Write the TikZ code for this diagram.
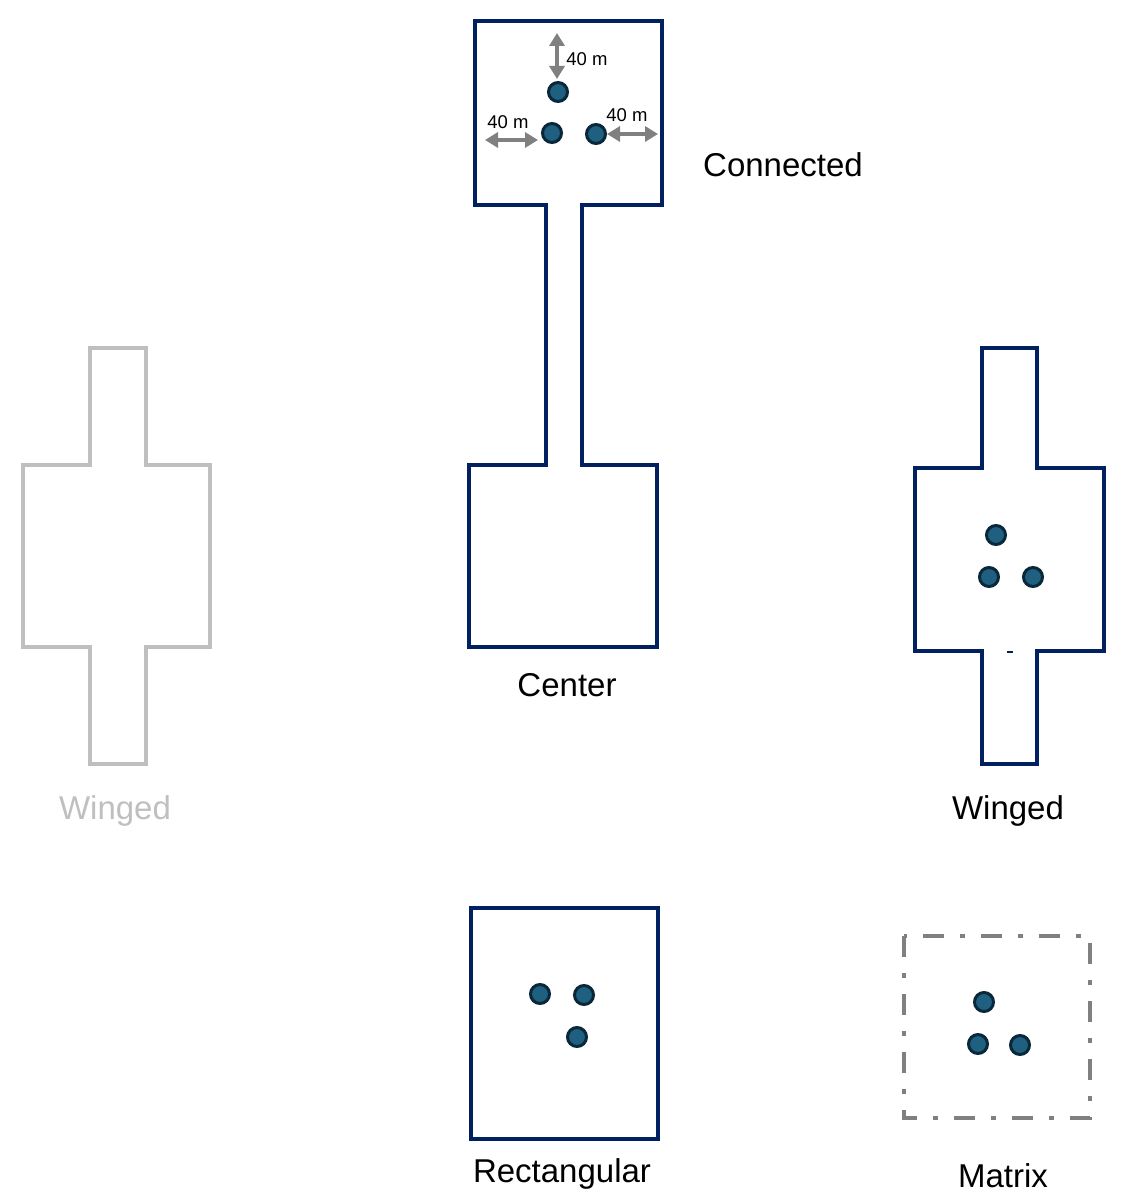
\documentclass[tikz,border=0pt]{standalone}
\usepackage{fontspec}
\setmainfont{Liberation Sans}
\usetikzlibrary{arrows.meta}
\definecolor{navy}{RGB}{0,32,96}
\definecolor{lgray}{RGB}{191,191,191}
\definecolor{mgray}{RGB}{128,128,128}
\definecolor{dotfill}{RGB}{31,96,128}
\definecolor{dotline}{RGB}{10,40,58}
\begin{document}
\begin{tikzpicture}[x=1pt,y=-1pt,
  wall/.style={draw=navy,line width=4.5pt,line join=miter},
  lwall/.style={draw=lgray,line width=4.5pt,line join=miter},
  well/.style={circle,fill=dotfill,draw=dotline,line width=3pt,minimum size=19pt,inner sep=0pt},
  lbl/.style={font=\fontsize{33}{40}\selectfont,text=black,inner sep=0pt},
  dim/.style={font=\fontsize{18.5}{22}\selectfont,text=black,inner sep=0pt},
  dimarrow/.style={draw=mgray,line width=4.5pt,{Triangle[length=13pt,width=15pt]}-{Triangle[length=13pt,width=15pt]},shorten <=-2pt,shorten >=-2pt}]
\useasboundingbox (0,0) rectangle (1132,1204);
% Connected + Center
\draw[wall] (546,205) -- (475,205) -- (475,21) -- (662,21) -- (662,205) -- (582,205)
  -- (582,465) -- (657,465) -- (657,647) -- (469,647) -- (469,465) -- (546,465) -- cycle;
\node[well] (c1) at (558,92) {};
\node[well] (c2) at (552,133) {};
\node[well] (c3) at (596,134) {};
\coordinate (va) at (557,35);
\coordinate (vb) at (557,77);
\coordinate (la) at (487,140);
\coordinate (lb) at (536,140);
\coordinate (ra) at (609,134);
\coordinate (rb) at (656,134);
\draw[dimarrow] (va) -- (vb);
\draw[dimarrow] (la) -- (lb);
\draw[dimarrow] (ra) -- (rb);
\node[dim] (d1) at (587,59) {40 m};
\node[dim] (d2) at (508,122) {40 m};
\node[dim] (d3) at (627,115) {40 m};
\node[lbl] (tconn) at (783,165) {Connected};
\node[lbl] (tcent) at (567,685) {Center};
% Left winged (gray)
\draw[lwall] (90,465) -- (90,348) -- (146,348) -- (146,465) -- (210,465) -- (210,647)
  -- (146,647) -- (146,764) -- (90,764) -- (90,647) -- (23,647) -- (23,465) -- cycle;
\node[lbl,text=lgray] (twl) at (115,811) {Winged};
% Right winged
\draw[wall] (982,468) -- (982,348) -- (1037,348) -- (1037,468) -- (1104,468) -- (1104,651)
  -- (1037,651) -- (1037,764) -- (982,764) -- (982,651) -- (915,651) -- (915,468) -- cycle;
\draw[navy,line width=2pt] (1007,652) -- (1013,652);
\node[well] (w1) at (996,535) {};
\node[well] (w2) at (989,577) {};
\node[well] (w3) at (1033,577) {};
\node[lbl] (twr) at (1008,811) {Winged};
% Rectangular
\draw[wall] (471,908) rectangle (658,1139);
\node[well] (r1) at (540,994) {};
\node[well] (r2) at (584,995) {};
\node[well] (r3) at (577,1037) {};
\node[lbl] (trect) at (562,1174) {Rectangular};
% Matrix
\draw[draw=mgray,line width=4.5pt,dash pattern=on 21pt off 16pt on 5pt off 16pt] (904,936) rectangle (1090,1118);
\node[well] (m1) at (984,1002) {};
\node[well] (m2) at (978,1044) {};
\node[well] (m3) at (1020,1045) {};
\node[lbl] (tmat) at (1003,1176) {Matrix};
\end{tikzpicture}
\end{document}
